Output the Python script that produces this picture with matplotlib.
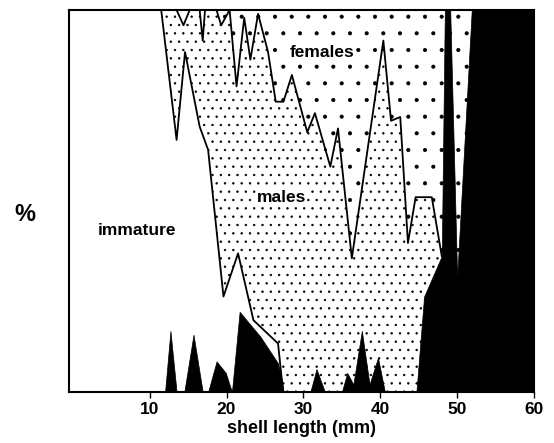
import matplotlib.pyplot as plt

# cumulative boundaries (percent), bottom to top
black_x = [0, 12.0, 12.7, 13.5, 14.5, 15.7, 16.9, 17.6, 18.7, 19.9, 20.7, 21.7, 24.4, 26.7, 27.2, 27.4,
           30.9, 31.7, 32.8, 35.0, 35.7, 36.5, 37.6, 38.6, 39.7, 40.6, 44.7, 45.7, 48.0, 48.4, 49.1,
           50.0, 51.9, 60]
black_y = [0, 0, 16, 0, 0, 15, 0, 0, 8, 5, 0, 21, 14.5, 7.5, 3.1, 0,
           0, 6, 0, 0, 5, 2, 16, 2, 9, 0, 0, 25, 35.6, 100, 100,
           30, 100, 100]

immature_x = [0, 11.5, 13.5, 14.6, 16.5, 17.6, 19.6, 21.5, 23.5, 26.7, 27.2, 27.4]
immature_y = [100, 100, 66, 89, 69.5, 63.4, 25, 36.3, 18.8, 12.7, 3.1, 0]

males_x = [11.5, 13.5, 14.4, 15.2, 16.5, 16.9, 17.2, 18.7, 19.3, 20.4, 21.3, 22.3, 23.1, 24.1, 25.4,
           26.4, 27.4, 28.5, 30.5, 31.5, 33.5, 34.5, 36.3, 40.4, 41.4, 42.6, 43.6, 44.6, 46.7, 48.0]
males_y = [100, 100, 96, 100, 100, 92, 100, 100, 96, 100, 80, 98, 87, 99, 89,
           76, 76, 83, 68, 73, 59, 69, 35, 92, 71, 72, 39, 51, 51, 35.6]

xticks = [10, 20, 30, 40, 50, 60]

plt.rcParams['font.family'] = ['Liberation Sans', 'DejaVu Sans']
plt.rcParams['hatch.linewidth'] = 0.5

fig = plt.figure(figsize=(5.54, 4.43), dpi=100)
ax = fig.add_axes([0.1245, 0.1151, 0.8394, 0.8623])

# painter's order: females (background), males, immature, black
ax.fill_between([males_x[0], 60], 0, 100, facecolor='white', edgecolor='black', hatch='.', linewidth=0)
ax.fill_between(males_x, 0, males_y, facecolor='white', edgecolor='black', hatch='..', linewidth=0)
ax.fill_between(immature_x, 0, immature_y, facecolor='white', edgecolor='white', linewidth=0)
ax.fill_between(black_x, 0, black_y, facecolor='black', edgecolor='black', linewidth=0.5)

ax.plot(immature_x, immature_y, color='black', lw=1.3)
ax.plot(males_x, males_y, color='black', lw=1.3)

box = dict(facecolor='white', edgecolor='none', pad=0.5)
ax.text(32.4, 89, 'females', ha='center', va='center', fontsize=12.5, fontweight='bold', bbox=box)
ax.text(27.1, 50.8, 'males', ha='center', va='center', fontsize=12.5, fontweight='bold', bbox=box)
ax.text(8.35, 42.4, 'immature', ha='center', va='center', fontsize=12.5, fontweight='bold')

ax.set_xlim(-0.5, 60)
ax.set_ylim(0, 100)
ax.set_xticks(xticks)
ax.set_xticklabels([str(t) for t in xticks], fontsize=12.5, fontweight='bold')
ax.set_yticks([])
ax.tick_params(axis='x', direction='out', length=4, width=1, pad=3)
for s in ax.spines.values():
    s.set_linewidth(1.5)

ax.set_xlabel('shell length (mm)', fontsize=13, fontweight='bold', labelpad=2)
fig.text(0.045, 0.515, '%', ha='center', va='center', fontsize=17, fontweight='bold')

plt.savefig('out.png', dpi=100)
